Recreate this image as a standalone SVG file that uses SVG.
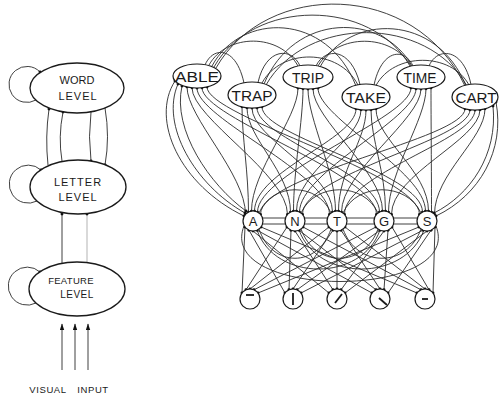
<svg xmlns="http://www.w3.org/2000/svg" width="501" height="399" viewBox="0 0 501 399">
<defs>
<marker id="dot" viewBox="-3 -3 6 6" markerWidth="4" markerHeight="4" markerUnits="userSpaceOnUse"><circle r="2.2" fill="#111"/></marker>
<marker id="arr" viewBox="0 0 12 8" refX="11" refY="4" markerWidth="7" markerHeight="5" orient="auto" markerUnits="userSpaceOnUse"><path d="M0 0 L12 4 L0 8 z" fill="#111"/></marker>
<style>
.c{fill:none;stroke:#2a2a2a;stroke-width:0.9}
.d{marker-start:url(#dot);marker-end:url(#dot)}
.e{marker-end:url(#dot)}
.lv{fill:#fff;stroke:#1a1a1a;stroke-width:1.3}
.wn{fill:#fff;stroke:#1a1a1a;stroke-width:1.2}
.ln{fill:#fff;stroke:#1a1a1a;stroke-width:1.2}
.sym{stroke:#1a1a1a;stroke-width:1.8;fill:none}
text{font-family:"Liberation Sans","DejaVu Sans",sans-serif;fill:#1a1a1a;text-anchor:middle}
.lt{font-size:11px;letter-spacing:1px}
.wt{font-size:15px}
.ct{font-size:13px}
.vi{font-size:9.5px;letter-spacing:0.6px}
</style>
</defs>
<rect width="501" height="399" fill="#fff"/>

<g id="connectors">
 <g id="left-connectors" class="c" stroke-width="1.1">
  <path class="e" d="M36 100 A18 18 0 1 1 40 72"/>
  <path class="e" d="M37 201 A19 19 0 1 1 41 170"/>
  <path class="e" d="M36 303 A19 19 0 1 1 40 272"/>
  <path class="e" d="M48 165 Q45 137 49 109"/>
  <path class="e" d="M62 161 Q58 137 63 112"/>
  <path class="e" d="M91 112 Q88 137 91 161"/>
  <path class="e" d="M105 108 Q110 137 105 165"/>
  <path class="e" d="M62 263 V214"/>
  <path class="e" d="M87 263 V214" stroke="#aaa"/>
  <path d="M62 370 V324" marker-end="url(#arr)"/>
  <path d="M75 370 V324" marker-end="url(#arr)"/>
  <path d="M88 370 V324" marker-end="url(#arr)"/>
 </g>
 <g id="word-word" class="c">
  <path d="M205 65 C213 46 236 46 244 83"/>
  <path d="M209 65 C227 33 280 33 298 66"/>
  <path d="M212 66 C241 12 327 12 356 86"/>
  <path d="M214 67 C253 -2 371 -2 410 66"/>
  <path d="M216 68 C266 -20 415 -20 465 86"/>
  <path d="M258 82.5 C266 47 292 47 300 66"/>
  <path d="M262 83 C281 48 339 48 358 85"/>
  <path d="M264 84 C294 12 382 12 412 66"/>
  <path d="M266 85 C306 15 427 15 467 86"/>
  <path d="M316 66 C325 47 351 47 360 84.5"/>
  <path d="M318 66 C337 33 392 33 411 66"/>
  <path d="M320 67 C349 13 437 13 466 86"/>
  <path d="M374 85 C382 48 405 48 413 66"/>
  <path d="M376 85.5 C394 52 451 52 469 85"/>
  <path d="M429 66 C437 47 463 47 471 84.5"/>
 </g>
 <g id="word-letter" class="c d">
  <path d="M187 86.9 C187 117 245.5 174 245.5 214.4"/>
  <path d="M192 87.7 C192 118 287.5 174 287.5 214.4"/>
  <path d="M197 88 C197 118 329.5 174 329.5 214.4"/>
  <path d="M202 87.7 C202 118 376.5 174 376.5 214.4"/>
  <path d="M207 86.9 C207 117 419.5 174 419.5 214.4"/>
  <path d="M242 106.8 C242 137 248.5 172 248.5 212.1"/>
  <path d="M247 107.7 C247 138 290.5 172 290.5 212.1"/>
  <path d="M252 108 C252 138 332.5 172 332.5 212.1"/>
  <path d="M257 107.7 C257 138 379.5 172 379.5 212.1"/>
  <path d="M262 106.8 C262 137 422.5 172 422.5 212.1"/>
  <path d="M298 88 C298 118 251.5 171 251.5 211.1"/>
  <path d="M303 88.8 C303 119 293.5 171 293.5 211.1"/>
  <path d="M308 89 C308 119 335.5 171 335.5 211.1"/>
  <path d="M313 88.8 C313 119 382.5 171 382.5 211.1"/>
  <path d="M318 88 C318 118 425.5 171 425.5 211.1"/>
  <path d="M356 108.8 C356 139 254.5 171 254.5 211.1"/>
  <path d="M361 109.7 C361 140 296.5 171 296.5 211.1"/>
  <path d="M366 110 C366 140 338.5 171 338.5 211.1"/>
  <path d="M371 109.7 C371 140 385.5 171 385.5 211.1"/>
  <path d="M376 108.8 C376 139 428.5 171 428.5 211.1"/>
  <path d="M411 87.9 C411 118 257.5 172 257.5 212.1"/>
  <path d="M416 88.7 C416 119 299.5 172 299.5 212.1"/>
  <path d="M421 89 C421 119 341.5 172 341.5 212.1"/>
  <path d="M426 88.7 C426 119 388.5 172 388.5 212.1"/>
  <path d="M431 87.9 C431 118 431.5 172 431.5 212.1"/>
  <path d="M465 108.7 C465 139 260.5 174 260.5 214.4"/>
  <path d="M470 109.7 C470 140 302.5 174 302.5 214.4"/>
  <path d="M475 110 C475 140 344.5 174 344.5 214.4"/>
  <path d="M480 109.7 C480 140 391.5 174 391.5 214.4"/>
  <path d="M485 108.7 C485 139 434.5 174 434.5 214.4"/>
  <path d="M175 81 C150 120 180 185 244 216"/>
  <path d="M178 84 C160 125 195 185 245 213"/>
  <path d="M182 86 C172 130 210 185 246 211"/>
  <path d="M496 102 C505 150 480 195 436 216"/>
  <path d="M493 106 C498 155 470 195 434 213"/>
 </g>
 <g id="letter-letter" class="c">
  <path d="M262.5 218 H285.5 M262.5 224 H285.5"/>
  <path d="M304.5 218 H327.5 M304.5 224 H327.5"/>
  <path d="M346.5 218 H374.5 M346.5 224 H374.5"/>
  <path d="M393.5 218 H417.5 M393.5 224 H417.5"/>
  <path d="M259 229 C272 268 318 268 331 229"/>
  <path d="M301 229 C315 268 364 268 378 229"/>
  <path d="M343 229 C357 268 407 268 421 229"/>
  <path d="M257 230 C275 282 362 282 380 230"/>
  <path d="M299 230 C318 282 405 282 424 230"/>
  <path d="M244 226 C215 300 465 300 436 226"/>
  <path d="M259 213 C272 182 318 182 331 213"/>
  <path d="M301 213 C315 182 364 182 378 213"/>
  <path d="M343 213 C357 182 407 182 421 213"/>
 </g>
 <g id="letter-feature" class="c d">
  <path d="M245 227 L242 293"/>
  <path d="M249 230.2 L285 293"/>
  <path d="M253 231 L329 293"/>
  <path d="M257 230.2 L372 293"/>
  <path d="M261 227 L417 293"/>
  <path d="M287 227 L246 289.8"/>
  <path d="M291 230.2 L289 289.8"/>
  <path d="M295 231 L333 289.8"/>
  <path d="M299 230.2 L376 289.8"/>
  <path d="M303 227 L421 289.8"/>
  <path d="M329 227 L250 289"/>
  <path d="M333 230.2 L293 289"/>
  <path d="M337 231 L337 289"/>
  <path d="M341 230.2 L380 289"/>
  <path d="M345 227 L425 289"/>
  <path d="M376 227 L254 289.8"/>
  <path d="M380 230.2 L297 289.8"/>
  <path d="M384 231 L341 289.8"/>
  <path d="M388 230.2 L384 289.8"/>
  <path d="M392 227 L429 289.8"/>
  <path d="M419 227 L258 293"/>
  <path d="M423 230.2 L301 293"/>
  <path d="M427 231 L345 293"/>
  <path d="M431 230.2 L388 293"/>
  <path d="M435 227 L433 293"/>
 </g>
</g>

<g id="word-level"><ellipse class="lv" cx="77" cy="88" rx="47" ry="25"/><text class="lt" x="77" y="84" style="letter-spacing:0">WORD</text><text class="lt" x="78" y="100">LEVEL</text></g>
<g id="letter-level"><ellipse class="lv" cx="78" cy="187" rx="48" ry="27"/><text class="lt" x="78" y="186">LETTER</text><text class="lt" x="78" y="201">LEVEL</text></g>
<g id="feature-level"><ellipse class="lv" cx="77" cy="289" rx="48" ry="27"/><text class="lt" x="71" y="284" style="font-size:9.5px;letter-spacing:0.3px">FEATURE</text><text class="lt" x="77" y="298" style="font-size:10px;letter-spacing:0.5px">LEVEL</text></g>
<g id="visual-input"><text class="vi" x="48" y="393">VISUAL</text><text class="vi" x="93" y="393">INPUT</text></g>

<g id="word-ABLE"><ellipse class="wn" cx="197" cy="76" rx="24" ry="12"/><text class="wt" x="197" y="82" textLength="44" lengthAdjust="spacingAndGlyphs">ABLE</text></g>
<g id="word-TRAP"><ellipse class="wn" cx="252" cy="95" rx="24" ry="13"/><text class="wt" x="252" y="101" textLength="41" lengthAdjust="spacingAndGlyphs">TRAP</text></g>
<g id="word-TRIP"><ellipse class="wn" cx="308" cy="77" rx="25" ry="12"/><text class="wt" x="308" y="83" textLength="32" lengthAdjust="spacingAndGlyphs">TRIP</text></g>
<g id="word-TAKE"><ellipse class="wn" cx="366" cy="97" rx="24" ry="13"/><text class="wt" x="366" y="103" textLength="40" lengthAdjust="spacingAndGlyphs">TAKE</text></g>
<g id="word-TIME"><ellipse class="wn" cx="421" cy="77" rx="24" ry="12"/><text class="wt" x="420" y="83" textLength="33" lengthAdjust="spacingAndGlyphs">TIME</text></g>
<g id="word-CART"><ellipse class="wn" cx="475" cy="97" rx="23" ry="13"/><text class="wt" x="476" y="103" textLength="41" lengthAdjust="spacingAndGlyphs">CART</text></g>

<g id="letter-A"><circle class="ln" cx="253" cy="221" r="10"/><text class="ct" x="253" y="225.7">A</text></g>
<g id="letter-N"><circle class="ln" cx="295" cy="221" r="10"/><text class="ct" x="295" y="225.7">N</text></g>
<g id="letter-T"><circle class="ln" cx="337" cy="221" r="10"/><text class="ct" x="337" y="225.7">T</text></g>
<g id="letter-G"><circle class="ln" cx="384" cy="221" r="10"/><text class="ct" x="384" y="225.7">G</text></g>
<g id="letter-S"><circle class="ln" cx="427" cy="221" r="10"/><text class="ct" x="427" y="225.7">S</text></g>

<g id="feature-1"><circle class="ln" cx="250" cy="299" r="10"/><path class="sym" d="M246 295 H254"/></g>
<g id="feature-2"><circle class="ln" cx="293" cy="299" r="10"/><path class="sym" d="M293 293 V305"/></g>
<g id="feature-3"><circle class="ln" cx="337" cy="299" r="10"/><path class="sym" d="M335 303 L342 294"/></g>
<g id="feature-4"><circle class="ln" cx="380" cy="299" r="10"/><path class="sym" d="M379 298 L387 305"/></g>
<g id="feature-5"><circle class="ln" cx="425" cy="299" r="10"/><path class="sym" d="M422 299 H428"/></g>
</svg>
